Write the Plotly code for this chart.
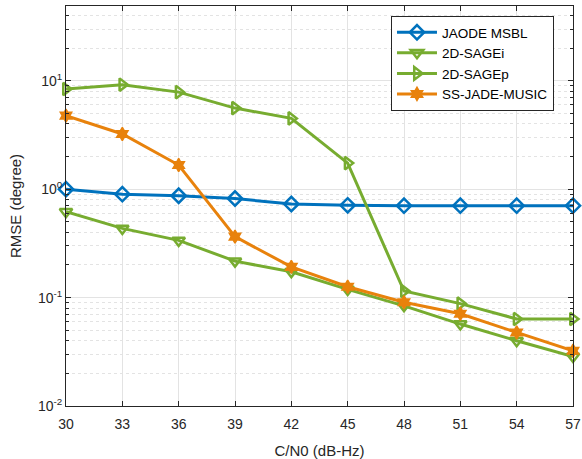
import plotly.graph_objects as go

cn0 = [30, 33, 36, 39, 42, 45, 48, 51, 54, 57]
jaode_msbl = [1.0, 0.90, 0.87, 0.82, 0.73, 0.71, 0.705, 0.705, 0.705, 0.705]
sage_i = [0.62, 0.435, 0.337, 0.217, 0.173, 0.119, 0.084, 0.057, 0.040, 0.0286]
sage_p = [8.4, 9.2, 7.86, 5.6, 4.5, 1.74, 0.115, 0.088, 0.0635, 0.0635]
ss_jade_music = [4.77, 3.23, 1.67, 0.365, 0.192, 0.126, 0.0906, 0.071, 0.0477, 0.0323]

y_tickvals = [0.01, 0.1, 1, 10]
y_ticktext = ["10<sup>-2</sup>", "10<sup>-1</sup>", "10<sup>0</sup>", "10<sup>1</sup>"]
y_minor_vals = [m * d for d in [0.01, 0.1, 1, 10] for m in range(2, 10)]

blue = "#0072BD"
green = "#77AC30"
orange = "#E8820C"

fig = go.Figure()
fig.add_trace(go.Scatter(x=cn0, y=jaode_msbl, name="JAODE MSBL", mode="lines+markers", cliponaxis=False,
                         line=dict(color=blue, width=3),
                         marker=dict(symbol="diamond-open", size=11, line=dict(width=2.5, color=blue))))
fig.add_trace(go.Scatter(x=cn0, y=sage_i, name="2D-SAGEi", mode="lines+markers", cliponaxis=False,
                         line=dict(color=green, width=3),
                         marker=dict(symbol="triangle-down-open", size=11, line=dict(width=2.5, color=green))))
fig.add_trace(go.Scatter(x=cn0, y=sage_p, name="2D-SAGEp", mode="lines+markers", cliponaxis=False,
                         line=dict(color=green, width=3),
                         marker=dict(symbol="triangle-right-open", size=11, line=dict(width=2.5, color=green))))
fig.add_trace(go.Scatter(x=cn0, y=ss_jade_music, name="SS-JADE-MUSIC", mode="lines+markers", cliponaxis=False,
                         line=dict(color=orange, width=3),
                         marker=dict(symbol="hexagram", size=10, color=orange, line=dict(width=1.5, color=orange))))

font_fam = "Liberation Sans, Arial"
axis_common = dict(
    showline=True, linecolor="#262626", linewidth=1, mirror="ticks",
    ticks="inside", tickcolor="#262626", ticklen=5,
    showgrid=True, gridcolor="#E3E3E3", gridwidth=1,
    zeroline=False, ticklabeloverflow="allow", automargin=False,
    tickfont=dict(family=font_fam, size=14, color="#262626"),
)

fig.update_xaxes(range=[30, 57], tickvals=cn0, ticklabelstandoff=5, **axis_common,
                 title=dict(text="C/N0 (dB-Hz)", font=dict(family=font_fam, size=15, color="#262626"), standoff=14))
fig.update_yaxes(type="log", range=[-2, 1.69], tickvals=y_tickvals, ticktext=y_ticktext, **axis_common,
                 minor=dict(tickmode="array", tickvals=y_minor_vals, ticks="inside", ticklen=3, tickcolor="#262626",
                            showgrid=True, gridcolor="#E3E3E3", griddash="dot", gridwidth=1),
                 title=dict(text="RMSE (degree)", font=dict(family=font_fam, size=15, color="#262626"), standoff=12))

fig.update_layout(
    width=582, height=459,
    margin=dict(l=66, r=9, t=6, b=53),
    plot_bgcolor="white", paper_bgcolor="white",
    legend=dict(x=0.641, y=0.975, xanchor="left", yanchor="top",
                bgcolor="white", bordercolor="#262626", borderwidth=1,
                font=dict(family=font_fam, size=13.5, color="#000000"),
                tracegroupgap=0, itemwidth=40),
    showlegend=True,
)

fig.write_html("out.html", config={"displayModeBar": False},
               post_script="document.body.style.margin='0';document.body.style.overflow='hidden';")
